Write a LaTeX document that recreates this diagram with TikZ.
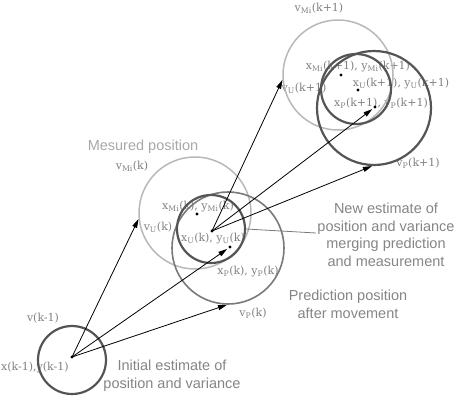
\documentclass[tikz,border=0pt]{standalone}
\usepackage{fontspec}
\setsansfont{Liberation Sans}
\newfontfamily\lblfont{DejaVu Serif}
\usetikzlibrary{arrows.meta}
\definecolor{dk}{HTML}{555555}
\definecolor{md}{HTML}{7A7A7A}
\definecolor{lt}{HTML}{B8B8B8}
\definecolor{labgray}{HTML}{808080}
\definecolor{capgray}{HTML}{858585}
\definecolor{caplight}{HTML}{A8A8A8}
\newcommand\sbs[1]{\textsubscript{#1}}
\begin{document}
\begin{tikzpicture}[x=1pt,y=-1pt,
  lbl/.style={font=\lblfont\fontsize{11}{13}\selectfont, text=labgray, inner sep=0pt},
  caption/.style={font=\sffamily\fontsize{14.5}{17.6}\selectfont, text=capgray, align=center, inner sep=0pt},
  circdark/.style={circle, draw=dk, line width=2.2pt, inner sep=0pt},
  circmed/.style={circle, draw=md, line width=1.6pt, inner sep=0pt},
  circlight/.style={circle, draw=lt, line width=1.5pt, inner sep=0pt},
  arr/.style={-{Triangle[length=9pt,width=5pt]}, line width=0.8pt, black},
  ptr/.style={line width=0.8pt, md},
  dotmark/.style={circle, fill=black, inner sep=0pt, minimum size=3.4pt}]
\useasboundingbox (0,0) rectangle (465,397);
% captions
\node[caption] (cap0) at (172,375.5) {Initial estimate of\\position and variance};
\node[caption, text=caplight] (capm) at (143,147) {Mesured position};
\node[caption] (capn) at (386,235) {New estimate of\\position and variance\\merging prediction\\and measurement};
\node[caption] (capp) at (348,304.5) {Prediction position\\after movement};
% labels
\node[lbl] (lvm1) at (319,8) {v\sbs{Mi}(k+1)};
\node[lbl] (lxm1) at (358,67) {x\sbs{Mi}(k+1), y\sbs{Mi}(k+1)};
\node[lbl] (lvu1) at (304,88) {v\sbs{U}(k+1)};
\node[lbl] (lxu1) at (401,84) {x\sbs{U}(k+1), y\sbs{U}(k+1)};
\node[lbl] (lxp1) at (381,104) {x\sbs{P}(k+1), y\sbs{P}(k+1)};
\node[lbl] (lvp1) at (418,163) {v\sbs{P}(k+1)};
\node[lbl] (lvm) at (132,166) {v\sbs{Mi}(k)};
\node[lbl] (lxm) at (198,207) {x\sbs{Mi}(k), y\sbs{Mi}(k)};
\node[lbl] (lvu) at (158,227) {v\sbs{U}(k)};
\node[lbl] (lxu) at (213,239) {x\sbs{U}(k), y\sbs{U}(k)};
\node[lbl] (lxp) at (248,272) {x\sbs{P}(k), y\sbs{P}(k)};
\node[lbl] (lvp) at (253,313) {v\sbs{P}(k)};
\node[lbl] (lv0) at (43,318) {v(k-1)};
\node[lbl, anchor=west] (lx0) at (1,368) {x(k-1),y(k-1)};
% circles
\node[circdark, minimum size=68pt] (c0) at (72,360) {};
\node[circlight, minimum size=112pt] (mk) at (195,213) {};
\node[circmed, minimum size=112pt] (pk) at (228,248) {};
\node[circdark, minimum size=68pt] (uk) at (211,229) {};
\node[circlight, minimum size=110pt] (mk1) at (338,75) {};
\node[circdark, minimum size=70pt] (uk1) at (356,89) {};
\node[circdark, minimum size=114pt] (pk1) at (374,108) {};
% centre dots
\node[dotmark] (d0) at (72,357) {};
\node[dotmark] (dmk) at (197,214) {};
\node[dotmark] (duk) at (212,231) {};
\node[dotmark] (dpk) at (230,247) {};
\node[dotmark] (dmk1) at (341,75) {};
\node[dotmark] (duk1) at (358,90) {};
\node[dotmark] (dpk1) at (375,107) {};
% arrows
\draw[arr] (d0.center) -- (mk.186);
\draw[arr, shorten >=1.5pt] (d0.center) -- (dpk);
\draw[arr] (d0.center) -- (pk.269);
\draw[arr] (duk.center) -- (mk1.185);
\draw[arr, shorten >=1.5pt] (duk.center) -- (dpk1);
\draw[arr] (duk.center) -- (pk1.268);
% pointer to new estimate
\coordinate (ne) at (316,233);
\draw[ptr] (uk.0) -- (ne);
\end{tikzpicture}
\end{document}
